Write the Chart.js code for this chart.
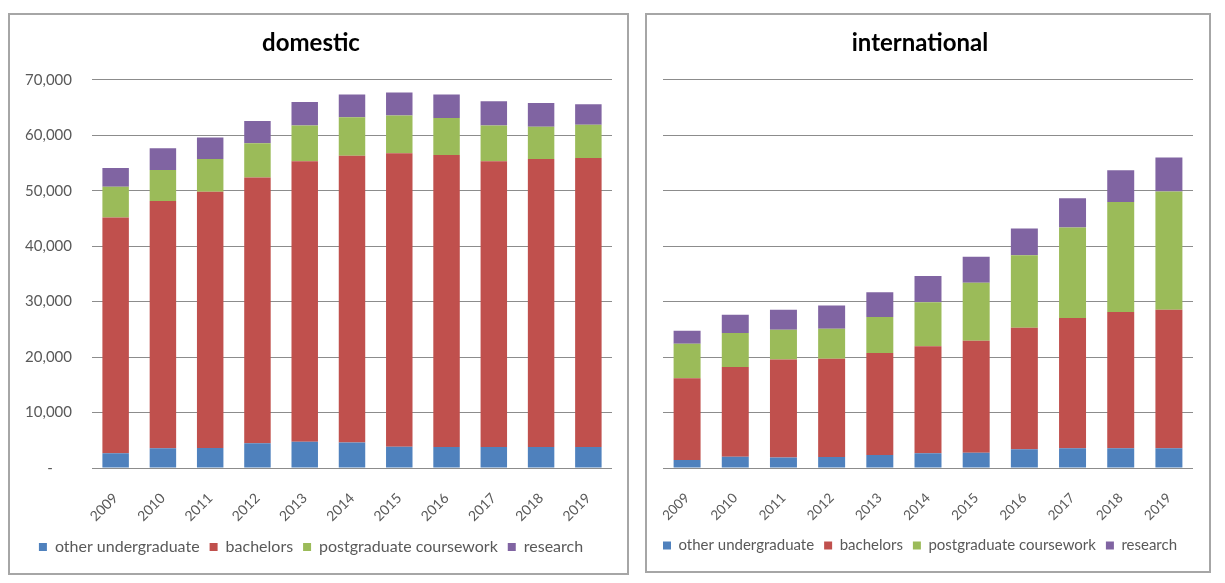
<!DOCTYPE html>
<html>
<head>
<meta charset="utf-8">
<script src="https://cdn.jsdelivr.net/npm/chart.js@4/dist/chart.umd.min.js"></script>
<style>
  html, body { margin: 0; padding: 0; background: #ffffff; }
  body { width: 1225px; height: 583px; position: relative; overflow: hidden; }
  .panel { position: absolute; box-sizing: border-box; border: 2px solid #a6a6a6; background: #fff; }
  .panel canvas { display: block; }
  #leftPanel { left: 8px; top: 13px; width: 621px; height: 562px; }
  #rightPanel { left: 645px; top: 13px; width: 566px; height: 560px; }
</style>
</head>
<body>
<div class="panel" id="leftPanel"><canvas id="domestic" width="617" height="558"></canvas></div>
<div class="panel" id="rightPanel"><canvas id="international" width="562" height="556"></canvas></div>
<script>
// Student numbers by level of course, 2009–2019
const years = ['2009', '2010', '2011', '2012', '2013', '2014', '2015', '2016', '2017', '2018', '2019'];
const seriesNames = ['other undergraduate', 'bachelors', 'postgraduate coursework', 'research'];
const seriesColors = ['#4f81bd', '#c0504d', '#9bbb59', '#8064a2'];

// domestic students
const domOtherUndergrad = [2650, 3550, 3600, 4450, 4750, 4600, 3850, 3800, 3800, 3800, 3800];
const domBachelors      = [42500, 44600, 46200, 47950, 50550, 51700, 52900, 52650, 51500, 51900, 52100];
const domPostgradCourse = [5550, 5600, 5900, 6150, 6450, 6950, 6800, 6650, 6450, 5850, 6000];
const domResearch       = [3400, 3900, 3900, 4000, 4250, 4100, 4150, 4250, 4400, 4250, 3700];

// international students
const intOtherUndergrad = [1450, 2050, 1900, 2000, 2350, 2650, 2750, 3400, 3550, 3550, 3550];
const intBachelors      = [14750, 16150, 17650, 17700, 18400, 19300, 20200, 21900, 23500, 24600, 25000];
const intPostgradCourse = [6200, 6150, 5400, 5400, 6500, 7950, 10450, 13050, 16300, 19800, 21300];
const intResearch       = [2350, 3300, 3600, 4200, 4450, 4700, 4700, 4850, 5300, 5750, 6150];

const yTicks = [0, 10000, 20000, 30000, 40000, 50000, 60000, 70000];

const TEXT_GREY = '#595959';
const GRID_GREY = '#8c8c8c';

function buildDatasets(parts) {
  return parts.map((values, i) => ({
    label: seriesNames[i],
    data: values,
    backgroundColor: seriesColors[i],
    borderWidth: 0,
    categoryPercentage: 1.0,
    barPercentage: 0.56,
    stack: 'all'
  }));
}

function makeChart(id, title, parts, cfg) {
  return new Chart(document.getElementById(id), {
    type: 'bar',
    data: { labels: years, datasets: buildDatasets(parts) },
    options: {
      responsive: false,
      animation: false,
      devicePixelRatio: 1,
      layout: { padding: { left: 0, right: cfg.rightPad, top: 0, bottom: cfg.bottomPad } },
      plugins: {
        title: {
          display: true,
          text: title,
          color: '#000000',
          font: { family: 'Lato', size: 24, weight: 'bold' },
          padding: { top: 14, bottom: 22 }
        },
        legend: {
          position: 'bottom',
          labels: {
            boxWidth: 8,
            boxHeight: 8,
            padding: 10,
            color: TEXT_GREY,
            font: { family: 'Lato', size: cfg.legendSize }
          }
        },
        tooltip: { enabled: false }
      },
      scales: {
        x: {
          stacked: true,
          grid: { display: false },
          border: { display: false },
          ticks: {
            autoSkip: false,
            minRotation: 45,
            maxRotation: 45,
            padding: 14,
            color: TEXT_GREY,
            font: { family: 'Lato', size: cfg.tickSize }
          },
          afterFit: (scale) => { scale.height = cfg.xHeight; }
        },
        y: {
          stacked: true,
          min: 0,
          max: 70000,
          afterBuildTicks: (scale) => { scale.ticks = yTicks.map(v => ({ value: v })); },
          grid: { color: GRID_GREY, lineWidth: 1, drawTicks: false },
          border: { display: false },
          ticks: {
            display: cfg.showYLabels,
            padding: 20,
            color: TEXT_GREY,
            font: { family: 'Lato', size: 15 },
            callback: (v) => v === 0 ? '-     ' : Number(v).toLocaleString('en-US')
          },
          afterFit: (scale) => { scale.width = cfg.yWidth; }
        }
      }
    }
  });
}

makeChart('domestic', 'domestic',
  [domOtherUndergrad, domBachelors, domPostgradCourse, domResearch],
  { yWidth: 82, xHeight: 61, rightPad: 15, bottomPad: 8, showYLabels: true, legendSize: 16, tickSize: 14 });

makeChart('international', 'international',
  [intOtherUndergrad, intBachelors, intPostgradCourse, intResearch],
  { yWidth: 16, xHeight: 60, rightPad: 16, bottomPad: 8, showYLabels: false, legendSize: 15, tickSize: 13.5 });
</script>
</body>
</html>
